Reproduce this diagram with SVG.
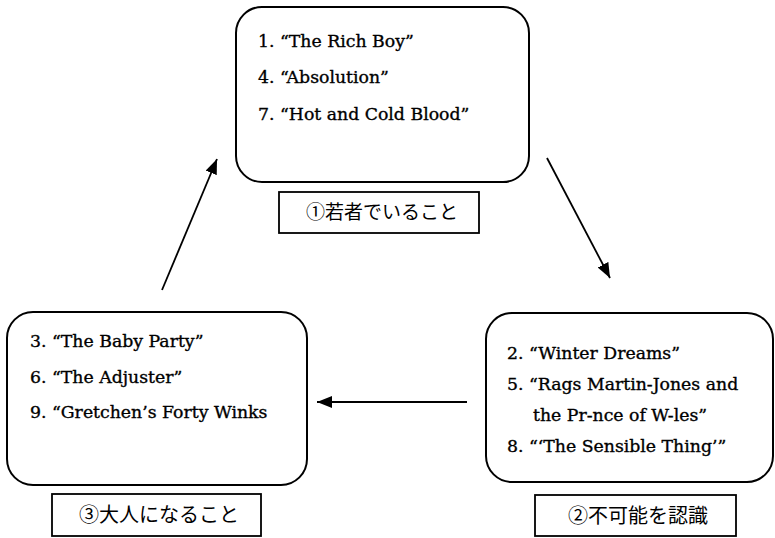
<svg xmlns="http://www.w3.org/2000/svg" width="775" height="538" viewBox="0 0 775 538">
<defs>
<style>
.box{fill:#fff;stroke:#000;stroke-width:2}
.lab{fill:#fff;stroke:#000;stroke-width:1.8}
.t{font-family:"DejaVu Serif","Liberation Serif",serif;font-size:17.3px;fill:#000;stroke:#000;stroke-width:0.35}
.j{font-family:"Noto Sans CJK JP","Noto Sans CJK SC",sans-serif;font-size:19px;fill:#000;text-anchor:middle}
.c{stroke:#000;stroke-width:1.8;fill:none;marker-end:url(#ah)}
</style>
<marker id="ah" markerWidth="16" markerHeight="12" refX="15" refY="6" orient="auto" markerUnits="userSpaceOnUse">
<path d="M0,0 L15,6 L0,12 Z" fill="#000"/>
</marker>
</defs>
<rect width="775" height="538" fill="#fff"/>
<g id="connectors">
<line class="c" x1="547" y1="158" x2="610" y2="278"/>
<line class="c" x1="467" y1="402" x2="317" y2="402"/>
<line class="c" x1="162" y1="290" x2="217" y2="159"/>
</g>
<g id="node1">
<rect class="box" x="236" y="7" width="293" height="175" rx="26"/>
<text class="t" x="258" y="47">1. “The Rich Boy”</text>
<text class="t" x="258" y="83">4. “Absolution”</text>
<text class="t" x="258" y="120">7. “Hot and Cold Blood”</text>
</g>
<g id="label1">
<rect class="lab" x="279" y="192" width="200" height="41"/>
<text class="j" x="382" y="219">①若者でいること</text>
</g>
<g id="node2">
<rect class="box" x="486" y="313" width="287" height="169" rx="26"/>
<text class="t" x="507" y="359">2. “Winter Dreams”</text>
<text class="t" x="507" y="390">5. “Rags Martin-Jones and</text>
<text class="t" x="533" y="421">the Pr-nce of W-les”</text>
<text class="t" x="507" y="452">8. “‘The Sensible Thing’”</text>
</g>
<g id="label2">
<rect class="lab" x="535" y="495" width="201" height="41"/>
<text class="j" x="638" y="523" style="font-size:20px">②不可能を認識</text>
</g>
<g id="node3">
<rect class="box" x="7" y="312" width="300" height="173" rx="26"/>
<text class="t" x="30" y="347">3. “The Baby Party”</text>
<text class="t" x="30" y="383">6. “The Adjuster”</text>
<text class="t" x="30" y="418">9. “Gretchen’s Forty Winks</text>
</g>
<g id="label3">
<rect class="lab" x="52" y="494" width="209" height="42"/>
<text class="j" x="159" y="522" style="font-size:20px">③大人になること</text>
</g>
</svg>
